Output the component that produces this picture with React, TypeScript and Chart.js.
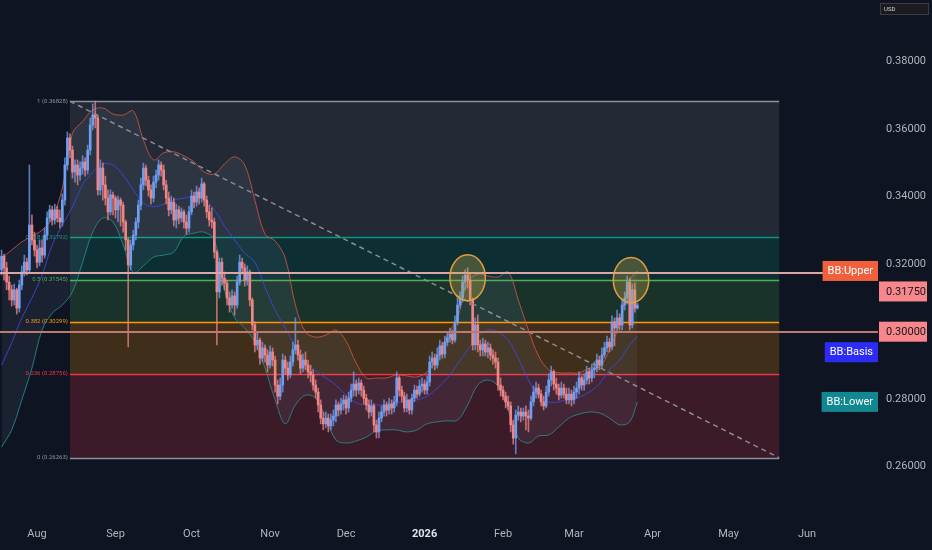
import React, { useEffect, useRef } from 'react';
import { Chart, registerables } from 'chart.js';

Chart.register(...registerables);

// x values are days counted from 2025-08-01; first candle is 2025-07-18
const startDay = -14;
const firstOpen = 0.3183;

const closes = [
  0.3224, 0.3189, 0.3147, 0.3124, 0.3094, 0.3124, 0.3070, 0.3138, 0.3177, 0.3206,
  0.3183, 0.3316, 0.3272, 0.3242, 0.3206, 0.3248, 0.3227, 0.3286, 0.3337, 0.3361,
  0.3331, 0.3361, 0.3337, 0.3325, 0.3390, 0.3494, 0.3574, 0.3538, 0.3473, 0.3494,
  0.3464, 0.3485, 0.3503, 0.3479, 0.3538, 0.3612, 0.3642, 0.3633, 0.3420, 0.3485,
  0.3435, 0.3396, 0.3355, 0.3405, 0.3396, 0.3361, 0.3390, 0.3375, 0.3325, 0.3272,
  0.3198, 0.3257, 0.3286, 0.3325, 0.3375, 0.3435, 0.3485, 0.3449, 0.3420, 0.3396,
  0.3443, 0.3464, 0.3494, 0.3479, 0.3435, 0.3396, 0.3361, 0.3384, 0.3331, 0.3361,
  0.3337, 0.3355, 0.3325, 0.3307, 0.3355, 0.3402, 0.3384, 0.3414, 0.3396, 0.3438,
  0.3390, 0.3355, 0.3331, 0.3325, 0.3236, 0.3118, 0.3206, 0.3159, 0.3144, 0.3100,
  0.3079, 0.3106, 0.3079, 0.3147, 0.3206, 0.3189, 0.3153, 0.3177, 0.3094, 0.3020,
  0.2961, 0.2975, 0.2922, 0.2952, 0.2931, 0.2901, 0.2940, 0.2916, 0.2842, 0.2809,
  0.2842, 0.2916, 0.2892, 0.2872, 0.2910, 0.2946, 0.2961, 0.2931, 0.2892, 0.2916,
  0.2901, 0.2881, 0.2872, 0.2842, 0.2821, 0.2783, 0.2744, 0.2727, 0.2744, 0.2721,
  0.2738, 0.2750, 0.2783, 0.2768, 0.2786, 0.2798, 0.2774, 0.2803, 0.2827, 0.2845,
  0.2827, 0.2848, 0.2827, 0.2803, 0.2783, 0.2762, 0.2780, 0.2724, 0.2703, 0.2744,
  0.2762, 0.2783, 0.2768, 0.2786, 0.2774, 0.2792, 0.2863, 0.2827, 0.2809, 0.2774,
  0.2798, 0.2768, 0.2803, 0.2827, 0.2815, 0.2839, 0.2845, 0.2827, 0.2851, 0.2910,
  0.2922, 0.2901, 0.2931, 0.2958, 0.2934, 0.2969, 0.2981, 0.2993, 0.2975, 0.3029,
  0.3079, 0.3100, 0.3147, 0.3168, 0.3153, 0.3094, 0.2961, 0.3020, 0.2961, 0.2946,
  0.2964, 0.2940, 0.2952, 0.2931, 0.2922, 0.2910, 0.2842, 0.2827, 0.2809, 0.2792,
  0.2780, 0.2724, 0.2685, 0.2753, 0.2762, 0.2750, 0.2762, 0.2750, 0.2744, 0.2792,
  0.2821, 0.2833, 0.2815, 0.2792, 0.2780, 0.2821, 0.2857, 0.2881, 0.2845, 0.2833,
  0.2812, 0.2833, 0.2815, 0.2798, 0.2815, 0.2798, 0.2821, 0.2833, 0.2863, 0.2842,
  0.2857, 0.2881, 0.2863, 0.2887, 0.2892, 0.2916, 0.2901, 0.2931, 0.2952, 0.2969,
  0.2955, 0.3029, 0.3011, 0.3041, 0.3020, 0.3079, 0.3100, 0.3147, 0.3020, 0.3124,
  0.3070, 0.3079,
];

const highs = [
  0.3242, 0.3230, 0.3206, 0.3165, 0.3138, 0.3141, 0.3129, 0.3153, 0.3195, 0.3227,
  0.3218, 0.3494, 0.3346, 0.3295, 0.3257, 0.3272, 0.3272, 0.3307, 0.3355, 0.3375,
  0.3372, 0.3378, 0.3372, 0.3361, 0.3408, 0.3515, 0.3592, 0.3586, 0.3550, 0.3509,
  0.3509, 0.3503, 0.3521, 0.3515, 0.3553, 0.3633, 0.3675, 0.3683, 0.3639, 0.3509,
  0.3500, 0.3461, 0.3420, 0.3420, 0.3414, 0.3402, 0.3402, 0.3396, 0.3384, 0.3331,
  0.3278, 0.3272, 0.3301, 0.3337, 0.3390, 0.3455, 0.3500, 0.3494, 0.3461, 0.3435,
  0.3461, 0.3479, 0.3509, 0.3503, 0.3494, 0.3449, 0.3414, 0.3402, 0.3396, 0.3378,
  0.3372, 0.3367, 0.3361, 0.3346, 0.3372, 0.3420, 0.3414, 0.3432, 0.3426, 0.3455,
  0.3443, 0.3402, 0.3375, 0.3367, 0.3337, 0.3242, 0.3218, 0.3218, 0.3177, 0.3153,
  0.3118, 0.3124, 0.3118, 0.3165, 0.3227, 0.3218, 0.3201, 0.3195, 0.3183, 0.3100,
  0.3029, 0.2999, 0.2981, 0.2969, 0.2961, 0.2946, 0.2958, 0.2952, 0.2928, 0.2857,
  0.2863, 0.2934, 0.2928, 0.2910, 0.2928, 0.2969, 0.3041, 0.2975, 0.2946, 0.2934,
  0.2940, 0.2916, 0.2901, 0.2887, 0.2857, 0.2833, 0.2798, 0.2762, 0.2762, 0.2756,
  0.2756, 0.2768, 0.2798, 0.2792, 0.2803, 0.2812, 0.2809, 0.2821, 0.2845, 0.2881,
  0.2857, 0.2863, 0.2857, 0.2839, 0.2815, 0.2798, 0.2798, 0.2786, 0.2738, 0.2762,
  0.2780, 0.2798, 0.2792, 0.2803, 0.2798, 0.2809, 0.2881, 0.2869, 0.2839, 0.2821,
  0.2815, 0.2798, 0.2815, 0.2842, 0.2839, 0.2857, 0.2863, 0.2857, 0.2869, 0.2928,
  0.2940, 0.2934, 0.2952, 0.2975, 0.2969, 0.2987, 0.2999, 0.3011, 0.3005, 0.3047,
  0.3100, 0.3118, 0.3165, 0.3183, 0.3189, 0.3174, 0.3100, 0.3041, 0.3050, 0.2975,
  0.2981, 0.2975, 0.2969, 0.2964, 0.2946, 0.2940, 0.2922, 0.2863, 0.2839, 0.2821,
  0.2809, 0.2792, 0.2738, 0.2768, 0.2780, 0.2774, 0.2774, 0.2780, 0.2768, 0.2809,
  0.2839, 0.2851, 0.2845, 0.2827, 0.2809, 0.2839, 0.2875, 0.2898, 0.2887, 0.2863,
  0.2845, 0.2851, 0.2845, 0.2833, 0.2833, 0.2827, 0.2839, 0.2851, 0.2881, 0.2869,
  0.2875, 0.2898, 0.2892, 0.2904, 0.2910, 0.2934, 0.2928, 0.2952, 0.2969, 0.2987,
  0.2981, 0.3047, 0.3041, 0.3064, 0.3053, 0.3094, 0.3118, 0.3165, 0.3159, 0.3141,
  0.3144, 0.3085,
];

const lows = [
  0.3168, 0.3153, 0.3124, 0.3094, 0.3076, 0.3079, 0.3052, 0.3058, 0.3124, 0.3165,
  0.3168, 0.3177, 0.3257, 0.3224, 0.3189, 0.3195, 0.3206, 0.3218, 0.3272, 0.3325,
  0.3316, 0.3319, 0.3325, 0.3307, 0.3313, 0.3375, 0.3479, 0.3515, 0.3455, 0.3443,
  0.3435, 0.3449, 0.3467, 0.3461, 0.3467, 0.3524, 0.3598, 0.3604, 0.3405, 0.3405,
  0.3390, 0.3375, 0.3331, 0.3346, 0.3346, 0.3337, 0.3325, 0.3313, 0.3295, 0.3242,
  0.2955, 0.3183, 0.3242, 0.3272, 0.3307, 0.3361, 0.3420, 0.3432, 0.3402, 0.3378,
  0.3384, 0.3426, 0.3449, 0.3461, 0.3420, 0.3378, 0.3343, 0.3349, 0.3313, 0.3307,
  0.3319, 0.3325, 0.3307, 0.3289, 0.3295, 0.3346, 0.3367, 0.3372, 0.3378, 0.3384,
  0.3372, 0.3337, 0.3313, 0.3307, 0.3218, 0.2961, 0.3100, 0.3138, 0.3124, 0.3079,
  0.3058, 0.3070, 0.3049, 0.3070, 0.3138, 0.3171, 0.3135, 0.3138, 0.3076, 0.3005,
  0.2940, 0.2946, 0.2904, 0.2910, 0.2910, 0.2881, 0.2892, 0.2898, 0.2821, 0.2786,
  0.2798, 0.2821, 0.2875, 0.2857, 0.2863, 0.2898, 0.2934, 0.2916, 0.2875, 0.2881,
  0.2887, 0.2863, 0.2851, 0.2827, 0.2803, 0.2762, 0.2727, 0.2709, 0.2715, 0.2703,
  0.2709, 0.2721, 0.2733, 0.2750, 0.2756, 0.2768, 0.2756, 0.2762, 0.2792, 0.2809,
  0.2809, 0.2815, 0.2809, 0.2786, 0.2768, 0.2744, 0.2750, 0.2703, 0.2685, 0.2685,
  0.2733, 0.2750, 0.2750, 0.2756, 0.2756, 0.2762, 0.2780, 0.2809, 0.2792, 0.2762,
  0.2762, 0.2756, 0.2756, 0.2792, 0.2803, 0.2809, 0.2821, 0.2815, 0.2815, 0.2839,
  0.2892, 0.2887, 0.2892, 0.2916, 0.2922, 0.2922, 0.2958, 0.2969, 0.2964, 0.2969,
  0.3020, 0.3070, 0.3088, 0.3124, 0.3129, 0.3079, 0.2946, 0.2946, 0.2940, 0.2928,
  0.2928, 0.2928, 0.2922, 0.2916, 0.2904, 0.2892, 0.2827, 0.2809, 0.2798, 0.2774,
  0.2768, 0.2703, 0.2667, 0.2638, 0.2738, 0.2733, 0.2738, 0.2709, 0.2703, 0.2738,
  0.2780, 0.2803, 0.2803, 0.2780, 0.2768, 0.2774, 0.2809, 0.2839, 0.2827, 0.2815,
  0.2798, 0.2803, 0.2803, 0.2786, 0.2786, 0.2780, 0.2786, 0.2803, 0.2815, 0.2827,
  0.2827, 0.2845, 0.2845, 0.2851, 0.2863, 0.2881, 0.2887, 0.2892, 0.2922, 0.2940,
  0.2940, 0.2946, 0.2958, 0.3000, 0.3005, 0.3005, 0.3064, 0.3082, 0.3005, 0.3011,
  0.3058, 0.3067,
];

// Bollinger Bands, read at sample days
const bbDays = [
  -14, -10, -6, -2, 2, 6, 10, 14, 18, 22, 26, 30, 34, 38, 42, 46, 50, 54, 58, 62,
  66, 70, 74, 78, 82, 86, 90, 94, 98, 102, 106, 110, 114, 118, 122, 126, 130, 134, 138, 142,
  146, 150, 154, 158, 162, 166, 170, 174, 178, 182, 186, 190, 194, 198, 202, 206, 210, 214, 218, 222,
  226, 230, 234, 237,
];
const bbUpper = [
  0.3218, 0.3242, 0.3266, 0.3283, 0.3301, 0.3337, 0.3426, 0.3588, 0.3623, 0.3657,
  0.3663, 0.3645, 0.3642, 0.3654, 0.3568, 0.3509, 0.3530, 0.3533, 0.3521, 0.3503,
  0.3473, 0.3467, 0.3497, 0.3518, 0.3494, 0.3390, 0.3289, 0.3269, 0.3218, 0.3079,
  0.2999, 0.2984, 0.2990, 0.3005, 0.2972, 0.2907, 0.2863, 0.2863, 0.2863, 0.2872,
  0.2869, 0.2866, 0.2881, 0.2925, 0.2990, 0.3041, 0.3147, 0.3171, 0.3165, 0.3162,
  0.3177, 0.3094, 0.3005, 0.2928, 0.2887, 0.2878, 0.2878, 0.2878, 0.2892, 0.2895,
  0.2946, 0.3026, 0.3153, 0.3180,
];
const bbBasis = [
  0.2901, 0.2967, 0.3041, 0.3100, 0.3168, 0.3257, 0.3316, 0.3370, 0.3435, 0.3473,
  0.3497, 0.3494, 0.3464, 0.3420, 0.3381, 0.3370, 0.3378, 0.3390, 0.3396, 0.3399,
  0.3393, 0.3361, 0.3313, 0.3272, 0.3233, 0.3206, 0.3132, 0.3064, 0.3011, 0.2955,
  0.2910, 0.2884, 0.2863, 0.2842, 0.2812, 0.2789, 0.2783, 0.2783, 0.2783, 0.2789,
  0.2792, 0.2798, 0.2809, 0.2833, 0.2863, 0.2904, 0.2946, 0.2984, 0.3005, 0.2999,
  0.2975, 0.2922, 0.2857, 0.2809, 0.2792, 0.2792, 0.2801, 0.2806, 0.2821, 0.2845,
  0.2887, 0.2916, 0.2961, 0.2987,
];
const bbLower = [
  0.2658, 0.2709, 0.2798, 0.2892, 0.3005, 0.3055, 0.3079, 0.3118, 0.3206, 0.3295,
  0.3337, 0.3325, 0.3257, 0.3174, 0.3195, 0.3221, 0.3227, 0.3236, 0.3283, 0.3292,
  0.3295, 0.3272, 0.3124, 0.3041, 0.3011, 0.2969, 0.2892, 0.2798, 0.2727, 0.2783,
  0.2812, 0.2803, 0.2744, 0.2679, 0.2670, 0.2676, 0.2688, 0.2706, 0.2709, 0.2709,
  0.2703, 0.2709, 0.2727, 0.2733, 0.2736, 0.2738, 0.2783, 0.2842, 0.2857, 0.2839,
  0.2768, 0.2685, 0.2670, 0.2691, 0.2694, 0.2718, 0.2744, 0.2756, 0.2762, 0.2759,
  0.2744, 0.2724, 0.2733, 0.2792,
];

const monthDays = [0, 31, 61, 92, 122, 153, 184, 212, 243, 273, 304];
const monthLabels = ['Aug', 'Sep', 'Oct', 'Nov', 'Dec', '2026', 'Feb', 'Mar', 'Apr', 'May', 'Jun'];
const priceTicks = [0.26, 0.28, 0.3, 0.32, 0.34, 0.36, 0.38];

// Fibonacci retracement drawing
const fibHigh = 0.36828;
const fibLow = 0.26263;
const fibLevels = [1, 0.618, 0.5, 0.382, 0.236, 0];
const fibColors = ['#8f929b', '#089981', '#4caf50', '#ff9800', '#f23645', '#8f929b'];
const fibFills = [
  'rgba(120,123,134,0.2)',
  'rgba(8,153,129,0.2)',
  'rgba(76,175,80,0.2)',
  'rgba(255,152,0,0.2)',
  'rgba(242,54,69,0.2)',
];
const fibStartDay = 13;
const fibEndDay = 293;

// Trend line, horizontal lines, highlight ellipses
const trendFrom = { day: 13, price: 0.36828 };
const trendTo = { day: 293, price: 0.26263 };
const hLines = [0.3175, 0.3];
const hLineColors = ['#dba6a6', '#bd7b6f'];
const ellipses = [
  { day: 170, price: 0.316, rxDays: 7, ryPrice: 0.0068 },
  { day: 234.5, price: 0.3153, rxDays: 7, ryPrice: 0.0067 },
];

const BG = '#0e1421';
const UP = '#6f9ff2';
const DOWN = '#f08585';
const UP_WICK = 'rgba(111,159,242,0.75)';
const DOWN_WICK = 'rgba(240,133,133,0.75)';

export default function App() {
  const ref = useRef<HTMLCanvasElement | null>(null);

  useEffect(() => {
    if (!ref.current) return;
    const candleDays = closes.map((_, i) => startDay + i);
    const opens = closes.map((_, i) => (i === 0 ? firstOpen : closes[i - 1]));
    const isUp = closes.map((c, i) => c >= opens[i]);

    const bgPlugin = {
      id: 'bg',
      beforeDraw(chart: any) {
        const { ctx, width, height } = chart;
        ctx.save();
        ctx.fillStyle = BG;
        ctx.fillRect(0, 0, width, height);
        ctx.restore();
      },
    };

    const fibPlugin = {
      id: 'fib',
      beforeDatasetsDraw(chart: any) {
        const { ctx, chartArea, scales } = chart;
        const xs = scales.x;
        const ys = scales.y;
        const x0 = xs.getPixelForValue(fibStartDay);
        const x1 = xs.getPixelForValue(fibEndDay);
        const vals = fibLevels.map((l) => fibLow + l * (fibHigh - fibLow));
        ctx.save();
        ctx.beginPath();
        ctx.rect(chartArea.left, chartArea.top, chartArea.right - chartArea.left, chartArea.bottom - chartArea.top);
        ctx.clip();
        for (let i = 0; i < vals.length - 1; i++) {
          const yt = ys.getPixelForValue(vals[i]);
          const yb = ys.getPixelForValue(vals[i + 1]);
          ctx.fillStyle = fibFills[i];
          ctx.fillRect(x0, yt, x1 - x0, yb - yt);
        }
        ctx.lineWidth = 1.5;
        vals.forEach((v, i) => {
          const y = Math.round(ys.getPixelForValue(v)) + 0.5;
          ctx.strokeStyle = fibColors[i];
          ctx.beginPath();
          ctx.moveTo(x0, y);
          ctx.lineTo(x1, y);
          ctx.stroke();
        });
        ctx.font = '6px Roboto';
        ctx.textAlign = 'right';
        ctx.textBaseline = 'middle';
        vals.forEach((v, i) => {
          const y = ys.getPixelForValue(v);
          ctx.fillStyle = fibColors[i];
          ctx.fillText(`${fibLevels[i]} (${v.toFixed(5)})`, x0 - 2, y);
        });
        ctx.restore();
      },
    };

    const overlayPlugin = {
      id: 'overlay',
      afterDatasetsDraw(chart: any) {
        const { ctx, chartArea, scales } = chart;
        const xs = scales.x;
        const ys = scales.y;
        ctx.save();
        ctx.beginPath();
        ctx.rect(chartArea.left, chartArea.top, chartArea.right - chartArea.left, chartArea.bottom - chartArea.top);
        ctx.clip();
        ctx.strokeStyle = '#8a8d96';
        ctx.lineWidth = 1.5;
        ctx.setLineDash([5, 4]);
        ctx.beginPath();
        ctx.moveTo(xs.getPixelForValue(trendFrom.day), ys.getPixelForValue(trendFrom.price));
        ctx.lineTo(xs.getPixelForValue(trendTo.day), ys.getPixelForValue(trendTo.price));
        ctx.stroke();
        ctx.setLineDash([]);
        hLines.forEach((v, i) => {
          const y = Math.round(ys.getPixelForValue(v));
          ctx.strokeStyle = hLineColors[i];
          ctx.lineWidth = 2;
          ctx.beginPath();
          ctx.moveTo(chartArea.left, y);
          ctx.lineTo(chartArea.right, y);
          ctx.stroke();
        });
        ellipses.forEach((e) => {
          const cx = xs.getPixelForValue(e.day);
          const cy = ys.getPixelForValue(e.price);
          const rx = Math.abs(xs.getPixelForValue(e.day + e.rxDays) - cx);
          const ry = Math.abs(ys.getPixelForValue(e.price + e.ryPrice) - cy);
          ctx.beginPath();
          ctx.ellipse(cx, cy, rx, ry, 0, 0, Math.PI * 2);
          ctx.fillStyle = 'rgba(196,170,70,0.32)';
          ctx.fill();
          ctx.strokeStyle = 'rgba(232,160,64,0.95)';
          ctx.lineWidth = 1.5;
          ctx.stroke();
        });
        ctx.restore();
      },
      afterDraw(chart: any) {
        const { ctx, chartArea, scales, width } = chart;
        const ys = scales.y;
        const last = bbDays.length - 1;
        const labels = [
          { text: 'BB:Upper', value: bbUpper[last], bg: '#f0603c', fg: '#ffffff', side: 'in' },
          { text: hLines[0].toFixed(5), value: hLines[0], bg: '#f7878b', fg: '#131722', side: 'out' },
          { text: hLines[1].toFixed(5), value: hLines[1], bg: '#f7878b', fg: '#131722', side: 'out' },
          { text: 'BB:Basis', value: bbBasis[last], bg: '#2c2cf6', fg: '#ffffff', side: 'in' },
          { text: 'BB:Lower', value: bbLower[last], bg: '#11878f', fg: '#ffffff', side: 'in' },
        ].map((l) => ({ ...l, y: ys.getPixelForValue(l.value) }));
        labels.sort((a, b) => a.y - b.y);
        const h = 20.5;
        for (let i = 1; i < labels.length; i++) {
          if (labels[i].y < labels[i - 1].y + h) labels[i].y = labels[i - 1].y + h;
        }
        ctx.save();
        ctx.font = '11px Roboto';
        ctx.textBaseline = 'middle';
        labels.forEach((l) => {
          const tw = ctx.measureText(l.text).width;
          const top = l.y - 10;
          if (l.side === 'in') {
            const w = tw + 10;
            const x = chartArea.right - w;
            ctx.fillStyle = l.bg;
            ctx.fillRect(x, top, w, 20);
            ctx.fillStyle = l.fg;
            ctx.textAlign = 'left';
            ctx.fillText(l.text, x + 5, l.y + 0.5);
          } else {
            const x = chartArea.right + 1;
            ctx.fillStyle = l.bg;
            ctx.fillRect(x, top, 48, 20);
            ctx.fillStyle = l.fg;
            ctx.textAlign = 'left';
            ctx.fillText(l.text, chartArea.right + 8, l.y + 0.5);
          }
        });
        ctx.fillStyle = '#1b1b22';
        ctx.fillRect(width - 52, 3, 49, 12);
        ctx.strokeStyle = '#3a3d48';
        ctx.lineWidth = 1;
        ctx.strokeRect(width - 51.5, 3.5, 48, 11);
        ctx.fillStyle = '#d1d4dc';
        ctx.font = '6px Roboto';
        ctx.textAlign = 'left';
        ctx.fillText('USD', width - 48, 9.5);
        ctx.restore();
      },
    };

    const chart = new Chart(ref.current, {
      type: 'bar',
      data: {
        datasets: [
          {
            type: 'bar',
            label: 'Body',
            data: candleDays.map((d, i) => ({ x: d, y: [opens[i], closes[i]] })) as any,
            backgroundColor: isUp.map((u) => (u ? UP : DOWN)),
            barThickness: 2,
            grouped: false,
            order: 0,
          } as any,
          {
            type: 'bar',
            label: 'Wick',
            data: candleDays.map((d, i) => ({ x: d, y: [lows[i], highs[i]] })) as any,
            backgroundColor: isUp.map((u) => (u ? UP_WICK : DOWN_WICK)),
            barThickness: 1,
            grouped: false,
            order: 1,
          } as any,
          {
            type: 'line',
            label: 'BB Upper',
            data: bbDays.map((d, i) => ({ x: d, y: bbUpper[i] })),
            borderColor: 'rgba(214,88,68,0.8)',
            borderWidth: 1,
            pointRadius: 0,
            tension: 0.35,
            fill: '+2',
            backgroundColor: 'rgba(150,165,200,0.09)',
            order: 2,
          } as any,
          {
            type: 'line',
            label: 'BB Basis',
            data: bbDays.map((d, i) => ({ x: d, y: bbBasis[i] })),
            borderColor: 'rgba(52,62,215,0.9)',
            borderWidth: 1,
            pointRadius: 0,
            tension: 0.35,
            fill: false,
            order: 3,
          } as any,
          {
            type: 'line',
            label: 'BB Lower',
            data: bbDays.map((d, i) => ({ x: d, y: bbLower[i] })),
            borderColor: 'rgba(30,140,140,0.85)',
            borderWidth: 1,
            pointRadius: 0,
            tension: 0.35,
            fill: false,
            order: 4,
          } as any,
        ],
      },
      options: {
        responsive: false,
        animation: false,
        events: [],
        layout: { padding: 0 },
        plugins: {
          legend: { display: false },
          tooltip: { enabled: false },
          title: { display: false },
        },
        scales: {
          x: {
            type: 'linear',
            min: -14.61,
            max: 332,
            offset: false,
            grid: { display: false, drawTicks: false },
            border: { display: false },
            afterBuildTicks: (s: any) => {
              s.ticks = monthDays.map((v) => ({ value: v }));
            },
            afterFit: (s: any) => {
              s.height = 32;
              s.paddingLeft = 0;
              s.paddingRight = 0;
              s.paddingTop = 0;
              s.paddingBottom = 0;
            },
            ticks: {
              autoSkip: false,
              maxRotation: 0,
              minRotation: 0,
              padding: 10,
              color: (c: any) => (c.index === 5 ? '#e0e3eb' : '#b2b5be'),
              font: (c: any) => ({ family: 'Roboto', size: 11, weight: c.index === 5 ? 'bold' : 'normal' }),
              callback: (_v: any, i: number) => monthLabels[i],
            },
          },
          y: {
            type: 'linear',
            position: 'right',
            min: 0.2448,
            max: 0.39828,
            grid: { display: false, drawTicks: false },
            border: { display: false },
            afterBuildTicks: (s: any) => {
              s.ticks = priceTicks.map((v) => ({ value: v }));
            },
            afterFit: (s: any) => {
              s.width = 54;
              s.paddingLeft = 0;
              s.paddingRight = 0;
              s.paddingTop = 0;
              s.paddingBottom = 0;
            },
            ticks: {
              padding: 8,
              color: '#b2b5be',
              font: { family: 'Roboto', size: 11 },
              callback: (v: any) => Number(v).toFixed(5),
            },
          },
        },
      } as any,
      plugins: [bgPlugin, fibPlugin, overlayPlugin],
    });

    return () => chart.destroy();
  }, []);

  return (
    <div style={{ position: 'fixed', left: 0, top: 0, width: 932, height: 550, background: BG }}>
      <canvas ref={ref} width={932} height={550} style={{ display: 'block', width: 932, height: 550 }} />
    </div>
  );
}
